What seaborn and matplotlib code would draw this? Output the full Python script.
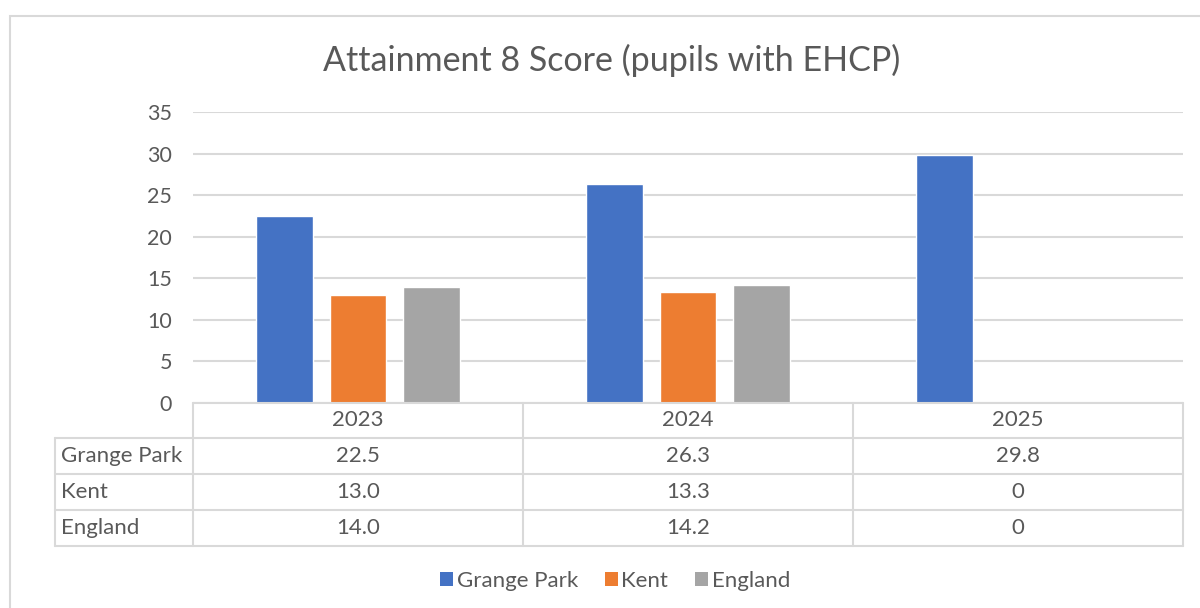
import pandas as pd
import matplotlib.pyplot as plt
import seaborn as sns
from matplotlib.lines import Line2D
from matplotlib.patches import Rectangle, Patch

# Data
years = ['2023', '2024', '2025']
series = ['Grange Park', 'Kent', 'England']
grange_park = [22.5, 26.3, 29.8]
kent = [13.0, 13.3, 0]
england = [14.0, 14.2, 0]

colors = ['#4472C4', '#ED7D31', '#A5A5A5']
text_color = '#595959'
line_color = '#D9D9D9'

df = pd.DataFrame({
    'Year': years * 3,
    'Series': [s for s in series for _ in years],
    'Score': grange_park + kent + england,
})

sns.set_style('white')
plt.rcParams['font.family'] = ['Lato', 'DejaVu Sans']

W, H = 1200, 608
fig = plt.figure(figsize=(12, 6.08), dpi=100)


def hline(y, x0, x1):
    fig.add_artist(Line2D([x0 / W, x1 / W], [1 - y / H, 1 - y / H],
                          color=line_color, linewidth=1.5))


def vline(x, y0, y1):
    fig.add_artist(Line2D([x / W, x / W], [1 - y0 / H, 1 - y1 / H],
                          color=line_color, linewidth=1.5))


def ftext(x, y, s, ha='center', size=16):
    fig.text(x / W, 1 - y / H, s, ha=ha, va='center', fontsize=size, color=text_color)


# chart frame (right and bottom edges fall outside the picture)
fig.add_artist(Rectangle((10 / W, -0.02), 1.05, (H - 16) / H + 0.02,
                         transform=fig.transFigure, fill=False,
                         edgecolor=line_color, linewidth=1.5))

ax_left, ax_right, ax_top, ax_bottom = 193, 1183, 112, 403
ax = fig.add_axes([ax_left / W, (H - ax_bottom) / H,
                   (ax_right - ax_left) / W, (ax_bottom - ax_top) / H])

sns.barplot(data=df, x='Year', y='Score', hue='Series', order=years,
            hue_order=series, palette=colors, width=0.664, gap=0.22,
            saturation=1, legend=False, ax=ax)

ax.set_ylim(0, 35)
ax.set_yticks(range(0, 36, 5))
ax.set_xlim(-0.5, 2.5)
ax.set_xticks([])
ax.set_xlabel('')
ax.set_ylabel('')
ax.yaxis.grid(True, color=line_color, linewidth=1.5)
ax.set_axisbelow(True)
for s in ax.spines.values():
    s.set_visible(False)
ax.tick_params(axis='y', length=0, pad=15, labelsize=15.5, labelcolor=text_color)

ftext(612, 60, 'Attainment 8 Score (pupils with EHCP)', size=24.5)

# data table under the plot
label_left = 55
col_w = (ax_right - ax_left) / len(years)
rows_y = [403, 437.5, 474, 510, 546]
hline(rows_y[0], ax_left, ax_right)
for y in rows_y[1:]:
    hline(y, label_left, ax_right)
vline(label_left, rows_y[1], rows_y[-1])
for j in range(len(years) + 1):
    vline(ax_left + j * col_w, rows_y[0], rows_y[-1])

for j, yr in enumerate(years):
    ftext(ax_left + (j + 0.5) * col_w, (rows_y[0] + rows_y[1]) / 2, yr)
for i, (name, vals) in enumerate(zip(series, [grange_park, kent, england])):
    yc = (rows_y[i + 1] + rows_y[i + 2]) / 2
    ftext(label_left + 6, yc, name, ha='left')
    for j, v in enumerate(vals):
        ftext(ax_left + (j + 0.5) * col_w, yc, f'{v:.1f}' if v else '0')

# legend
handles = [Patch(facecolor=c, edgecolor='none', label=s) for s, c in zip(series, colors)]
fig.legend(handles=handles, loc='center', bbox_to_anchor=(615 / W, (H - 581) / H),
           ncol=3, frameon=False, fontsize=16, labelcolor=text_color,
           handlelength=0.6, handleheight=0.6, handletextpad=0.15, columnspacing=1.2)

plt.savefig('out.png', dpi=100)
